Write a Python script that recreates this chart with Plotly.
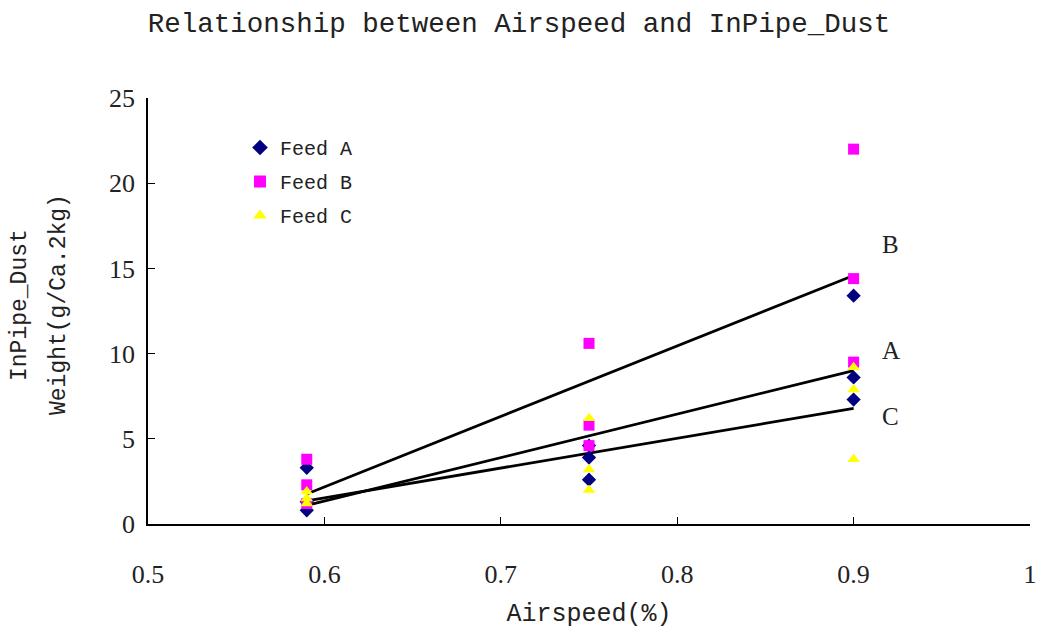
import numpy as np
import plotly.graph_objects as go

# Data
airspeed = [0.59, 0.59, 0.59, 0.75, 0.75, 0.75, 0.90, 0.90, 0.90]
feed_a = [3.3, 1.3, 0.8, 4.6, 3.9, 2.6, 13.4, 8.6, 7.3]
feed_b = [3.8, 2.3, 1.2, 10.6, 5.8, 4.6, 22.0, 14.4, 9.5]
feed_c = [1.9, 1.5, 1.2, 6.2, 3.2, 2.0, 9.2, 7.9, 3.8]
series_names = ["Feed A", "Feed B", "Feed C"]
label_text = ["A", "B", "C"]
label_y = [10.2, 16.4, 6.3]
x_ticks = [0.5, 0.6, 0.7, 0.8, 0.9, 1.0]
x_tick_text = ["0.5", "0.6", "0.7", "0.8", "0.9", "1"]
y_ticks = [0, 5, 10, 15, 20, 25]

colors = ["#000080", "#FF00FF", "#FFFF00"]
symbols = ["diamond", "square", "triangle-up"]
FONT = "Liberation Mono"
SERIF = "Liberation Serif"
TXT = "#222222"

L, R, T, B = 148, 16, 98, 115
W, H = 1046, 639
pw, ph = W - L - R, H - T - B

fig = go.Figure()
all_series = [feed_a, feed_b, feed_c]
for vals in all_series:
    slope, intercept = np.polyfit(airspeed, vals, 1)
    xs = [min(airspeed), max(airspeed)]
    ys = [slope * x + intercept for x in xs]
    fig.add_trace(go.Scatter(x=xs, y=ys, mode="lines",
                             line=dict(color="black", width=2.8),
                             showlegend=False, hoverinfo="skip"))

for vals, name, col, sym in zip(all_series, series_names, colors, symbols):
    fig.add_trace(go.Scatter(x=airspeed, y=vals, mode="markers", name=name,
                             legendgroup=name,
                             marker=dict(color=col, symbol=sym, size=11,
                                         line=dict(width=0))))

for t, ly in zip(label_text, label_y):
    fig.add_annotation(x=0.915, y=ly, text=t, showarrow=False,
                       font=dict(family=SERIF, size=25, color=TXT),
                       xanchor="left", yanchor="middle")

# two-line y-axis title
for txt, px in [("InPipe_Dust", 20), ("Weight(g/Ca.2kg)", 59)]:
    fig.add_annotation(xref="paper", yref="paper",
                       x=(px - L) / pw, y=(H - B - 305) / ph,
                       text=txt, showarrow=False, textangle=-90,
                       xanchor="center", yanchor="middle",
                       font=dict(family=FONT, size=23, color=TXT))

fig.update_layout(
    width=W, height=H,
    margin=dict(l=L, r=R, t=T, b=B, autoexpand=False),
    paper_bgcolor="white", plot_bgcolor="white",
    title=dict(text="Relationship between Airspeed and InPipe_Dust",
               x=(519) / W, xanchor="center", y=1 - 22 / H, yanchor="middle",
               font=dict(family=FONT, size=27.5, color=TXT)),
    legend=dict(x=(240 - L) / pw, y=(H - B - 128) / ph, xanchor="left", yanchor="top",
                font=dict(family=FONT, size=20, color=TXT),
                bgcolor="rgba(0,0,0,0)", tracegroupgap=5, itemsizing="constant"),
    font=dict(family=FONT, color=TXT),
)
fig.update_xaxes(range=[0.5, 1.0], tickvals=x_ticks, ticktext=x_tick_text,
                 showgrid=False, zeroline=False, showline=True, automargin=False,
                 linecolor="black", linewidth=1.5, ticks="inside",
                 ticklen=7, tickcolor="black", ticklabelstandoff=26,
                 tickfont=dict(family=SERIF, size=26, color=TXT),
                 title=dict(text="Airspeed(%)", standoff=16,
                            font=dict(family=FONT, size=25, color=TXT)))
fig.update_yaxes(range=[0, 25], tickvals=y_ticks, showgrid=False, zeroline=False,
                 showline=True, linecolor="black", linewidth=1.5, automargin=False,
                 ticks="inside", ticklen=7, tickcolor="black", ticklabelstandoff=6,
                 tickfont=dict(family=SERIF, size=26, color=TXT))
fig.write_html("out.html")
